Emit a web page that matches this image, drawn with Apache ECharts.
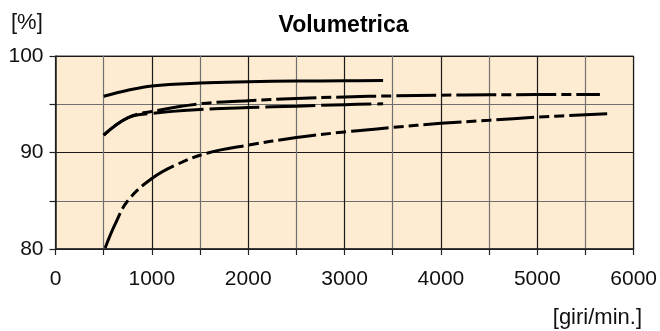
<!DOCTYPE html>
<html><head><meta charset="utf-8">
<script src="https://cdn.jsdelivr.net/npm/echarts@6/dist/echarts.min.js"></script>
<style>html,body{margin:0;padding:0;background:#fff}#c{width:660px;height:331px}</style>
</head><body><div id="c"></div>
<script>
const titleText = 'Volumetrica';
const yUnit = '[%]';
const xUnit = '[giri/min.]';
const xTickLabels = ['0','1000','2000','3000','4000','5000','6000'];
const yTickLabels = ['80','90','100'];

const s1x = [500, 750, 1000, 1500, 2000, 2500, 3000, 3400];
const s1y = [95.83, 96.45, 96.9, 97.2, 97.33, 97.4, 97.43, 97.45];
const s2x = [500, 750, 1000, 1500, 2000, 2500, 3000, 3500, 4000, 4500, 5000, 5650];
const s2y = [91.8, 93.6, 94.25, 95.05, 95.36, 95.6, 95.76, 95.87, 95.94, 95.98, 96.0, 96.02];
const s3x = [500, 750, 1000, 1500, 2000, 2500, 3000, 3400];
const s3y = [91.8, 93.6, 94.05, 94.45, 94.66, 94.8, 94.96, 95.05];
const s4x = [515, 620, 750, 1000, 1270, 1580, 2000, 2500, 3000, 3500, 4000, 4500, 5000, 5770];
const s4y = [80.1, 82.6, 85.0, 87.3, 88.8, 89.95, 90.76, 91.55, 92.13, 92.6, 93.02, 93.34, 93.66, 94.04];

const pairs = (xs, ys) => xs.map((x, i) => [x, ys[i]]);
const font = '"Liberation Sans", Arial, sans-serif';

const chart = echarts.init(document.getElementById('c'), null, {renderer: 'canvas'});
function ln(data, dash) {
  return {
    type: 'line', data, smooth: 0.4, showSymbol: false, symbol: 'none',
    lineStyle: {color: '#000', width: 3, type: dash, cap: 'butt'},
    z: 5
  };
}
chart.setOption({
  animation: false,
  title: {
    text: titleText, left: 338.5, top: 9, textAlign: 'center',
    textStyle: {fontFamily: font, fontSize: 23, fontWeight: 'bold', color: '#000'}
  },
  grid: {
    left: 55.5, right: 24.5, top: 56, bottom: 82,
    show: true, backgroundColor: '#fdecd1', borderColor: '#333', borderWidth: 1
  },
  xAxis: {
    type: 'value', min: 0, max: 6000, interval: 500,
    axisLine: {show: true, lineStyle: {color: '#222', width: 1.5}},
    axisTick: {show: true, inside: false, length: 6, lineStyle: {color: '#222', width: 1.2}},
    axisLabel: {
      margin: 20, fontFamily: font, fontSize: 21, color: '#111',
      formatter: v => (v % 1000 === 0 ? xTickLabels[v / 1000] : '')
    },
    splitLine: {show: true, lineStyle: {color: ['#1a1a1a', '#707070'], width: 1.2}}
  },
  yAxis: {
    type: 'value', min: 80, max: 100, interval: 5,
    axisLine: {show: true, lineStyle: {color: '#222', width: 1.5}},
    axisTick: {show: true, inside: false, length: 6, lineStyle: {color: '#222', width: 1.2}},
    axisLabel: {
      margin: 12, fontFamily: font, fontSize: 21, color: '#111',
      formatter: v => (v % 10 === 0 ? yTickLabels[(v - 80) / 10] : '')
    },
    splitLine: {show: true, lineStyle: {color: ['#1a1a1a', '#707070'], width: 1.2}}
  },
  graphic: [
    {type: 'text', left: 11, top: 12, style: {text: yUnit, font: '22px ' + font, fill: '#111'}},
    {type: 'text', right: 18, top: 307, style: {text: xUnit, font: '22px ' + font, fill: '#111'}}
  ],
  series: [
    ln(pairs(s1x, s1y), 'solid'),
    ln(pairs(s2x, s2y), [40, 5, 10, 5]),
    ln(pairs(s3x, s3y), [50, 6]),
    ln(pairs(s4x, s4y), [38, 5, 10, 5, 10, 5])
  ]
});
</script></body></html>
